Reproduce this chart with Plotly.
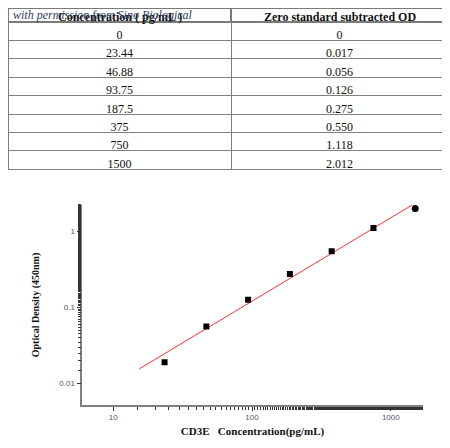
import plotly.graph_objects as go

# standard curve table
header_labels = ["Concentration ( pg/mL )", "Zero standard subtracted OD"]
conc_labels = ["0", "23.44", "46.88", "93.75", "187.5", "375", "750", "1500"]
od_labels = ["0", "0.017", "0.056", "0.126", "0.275", "0.550", "1.118", "2.012"]

# points as drawn on the log-log plot
conc = [23.44, 46.88, 93.75, 187.5, 375, 750]
od = [0.019, 0.056, 0.126, 0.275, 0.55, 1.118]
top_conc = [1500]
top_od = [2.012]

# fitted line end points
fit_x = [15.4, 1455]
fit_y = [0.0155, 2.29]

serif = "Liberation Serif"

# page body has an 8px margin, so the figure is 8px smaller than the window
W, H = 442, 440
col_w = [223, 217]

fig = go.Figure()

fig.add_trace(go.Table(
    domain=dict(x=[0, 440 / W], y=[1 - 185 / H, 1]),
    columnwidth=col_w,
    header=dict(values=["", ""], height=14,
                line=dict(color="#7a7a7a", width=1.5),
                fill=dict(color="rgba(0,0,0,0)")),
    cells=dict(values=[conc_labels, od_labels],
               align="center", height=18.4,
               line=dict(color="#808080", width=1),
               fill=dict(color="white"),
               font=dict(family=serif, size=12, color="#111")),
))

fig.add_trace(go.Scatter(x=fit_x, y=fit_y, mode="lines",
                         line=dict(color="#ff3030", width=1), showlegend=False))
fig.add_trace(go.Scatter(x=conc, y=od, mode="markers",
                         marker=dict(symbol="square", size=6, color="black"), showlegend=False))
fig.add_trace(go.Scatter(x=top_conc, y=top_od, mode="markers",
                         marker=dict(symbol="circle", size=7, color="black"), showlegend=False))

axis_style = dict(type="log", showgrid=False, zeroline=False,
                  showline=True, linecolor="#808080", linewidth=1.5,
                  ticks="outside", ticklen=4, tickcolor="#333", tickwidth=1,
                  minor=dict(ticks="outside", ticklen=3, tickcolor="#333", showgrid=False),
                  tickfont=dict(family="Liberation Sans", size=8, color="#556"))

# header text sits above the table's (short) header row
annots = []
left = 0
for label, w in zip(header_labels, col_w):
    annots.append(dict(text="<b>" + label + "</b>", x=(left + w / 2) / W, y=1,
                       xref="paper", yref="paper", showarrow=False,
                       xanchor="center", yanchor="top",
                       font=dict(family=serif, size=12, color="#111")))
    left += w
annots.append(dict(text="<i>with permission from Sino Biological</i>",
                   x=3 / W, y=1 - 7 / H, xref="paper", yref="paper", showarrow=False,
                   xanchor="left", yanchor="middle",
                   font=dict(family=serif, size=12, color="#2f3d5c")))

fig.update_layout(
    width=W, height=H,
    margin=dict(l=0, r=0, t=0, b=0),
    paper_bgcolor="white", plot_bgcolor="white",
    xaxis=dict(axis_style, domain=[74.3 / W, 414.7 / W], range=[0.777, 3.23],
               tickvals=[10, 100, 1000], ticktext=["10", "100", "1000"],
               title=dict(text="<b>CD3E   Concentration(pg/mL)</b>", standoff=6,
                          font=dict(family=serif, size=11, color="#111"))),
    yaxis=dict(axis_style, domain=[1 - 397 / H, 1 - 197 / H], range=[-2.285, 0.35],
               tickvals=[0.01, 0.1, 1], ticktext=["0.01", "0.1", "1"],
               title=dict(text="<b>Optical Density (450nm)</b>", standoff=18,
                          font=dict(family=serif, size=10, color="#111"))),
    annotations=annots,
)

fig.write_html("out.html")
